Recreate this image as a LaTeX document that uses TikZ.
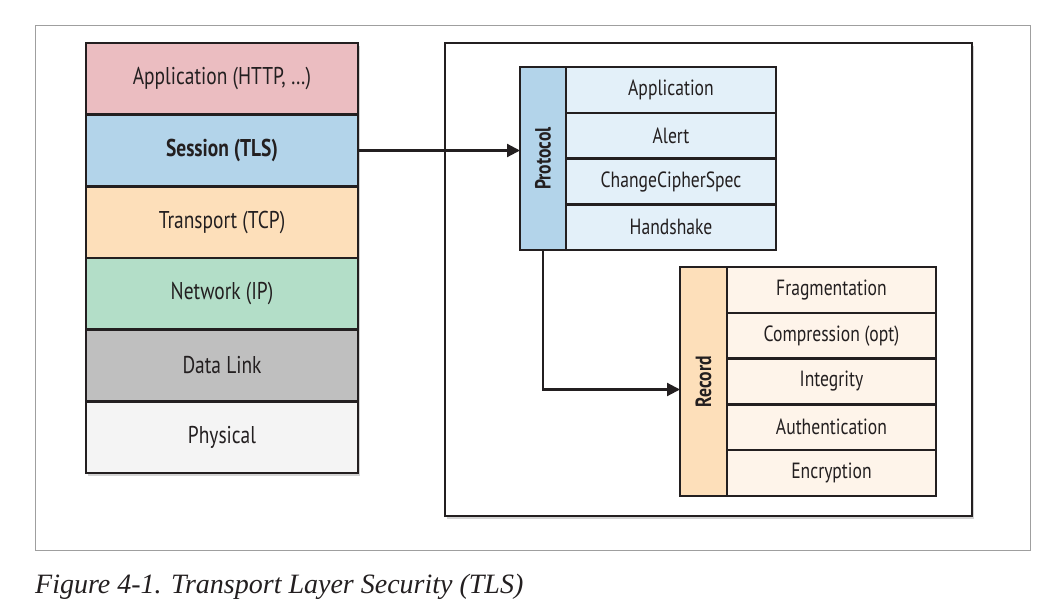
\documentclass[tikz,border=0pt]{standalone}
\usepackage{fontspec}
\setmainfont{Liberation Serif}
\setsansfont[FakeStretch=0.8]{PT Sans}
\usetikzlibrary{positioning,shadows,arrows.meta}

\definecolor{apppink}{HTML}{EBBDC1}
\definecolor{sessblue}{HTML}{B3D4EA}
\definecolor{tcppeach}{HTML}{FDDFBA}
\definecolor{ipgreen}{HTML}{B3DEC8}
\definecolor{linkgray}{HTML}{BFBFBF}
\definecolor{physgray}{HTML}{F4F4F4}
\definecolor{protocell}{HTML}{E3F0F9}
\definecolor{reccell}{HTML}{FEF4EA}
\definecolor{inkblack}{HTML}{231F20}

\tikzset{
  shade box/.style={drop shadow={shadow xshift=2pt, shadow yshift=-2.5pt, opacity=.35}},
  layer/.style={draw=inkblack, line width=2.6pt, shade box, outer sep=0pt, inner sep=0pt,
    minimum width=272pt, minimum height=71.67pt, text=inkblack,
    font=\sffamily\fontsize{24.3}{28}\selectfont},
  cell/.style={draw=inkblack, line width=2.4pt, outer sep=0pt, inner sep=0pt,
    minimum width=210pt, minimum height=45.8pt, text=inkblack,
    font=\sffamily\fontsize{22}{26}\selectfont},
  strip/.style={draw=inkblack, line width=2.4pt, outer sep=0pt, inner sep=0pt,
    minimum width=46pt, text=inkblack,
    font=\sffamily\fontsize{22}{26}\selectfont\bfseries},
  link/.style={draw=inkblack, line width=2.2pt, -{Triangle[length=13pt,width=13pt]}}
}

\begin{document}
\begin{tikzpicture}[x=1pt, y=-1pt]
    \useasboundingbox (0,0) rectangle (1058,613);
    \draw[gray!75, line width=1pt] (35,25) rectangle (1030,550);

    % OSI stack
    \node[layer, fill=apppink, anchor=north west] (app) at (86,43) {Application (HTTP, \dots)};
    \node[layer, fill=sessblue, below=0pt of app, font=\sffamily\fontsize{24.3}{28}\selectfont\bfseries] (session) {Session (TLS)};
    \node[layer, fill=tcppeach, below=0pt of session] (transport) {Transport (TCP)};
    \node[layer, fill=ipgreen, below=0pt of transport] (network) {Network (IP)};
    \node[layer, fill=linkgray, below=0pt of network] (datalink) {Data Link};
    \node[layer, fill=physgray, below=0pt of datalink] (physical) {Physical};

    % TLS box
    \node[draw=inkblack, line width=2.8pt, fill=white, shade box, outer sep=0pt,
      minimum width=527pt, minimum height=473pt, anchor=north west] (tlsbox) at (445,43) {};

    % protocol layer
    \node[strip, fill=sessblue, minimum height=183pt, anchor=north west] (proto) at (520,67) {\rotatebox{90}{Protocol}};
    \node[cell, fill=protocell, anchor=north west] (papp) at (proto.north east) {Application};
    \node[cell, fill=protocell, below=0pt of papp] (palert) {Alert};
    \node[cell, fill=protocell, below=0pt of palert] (pccs) {ChangeCipherSpec};
    \node[cell, fill=protocell, below=0pt of pccs] (phand) {Handshake};

    % record layer
    \node[strip, fill=tcppeach, minimum width=47pt, minimum height=229pt, anchor=north west] (record) at (680,267) {\rotatebox{90}{Record}};
    \node[cell, fill=reccell, minimum width=209pt, anchor=north west] (rfrag) at (record.north east) {Fragmentation};
    \node[cell, fill=reccell, minimum width=209pt, below=0pt of rfrag] (rcomp) {Compression (opt)};
    \node[cell, fill=reccell, minimum width=209pt, below=0pt of rcomp] (rint) {Integrity};
    \node[cell, fill=reccell, minimum width=209pt, below=0pt of rint] (rauth) {Authentication};
    \node[cell, fill=reccell, minimum width=209pt, below=0pt of rauth] (renc) {Encryption};

    \draw[link] (session.east) -- (session.east -| proto.west);
    \draw[link] (proto.south) |- ([yshift=-8pt]record.west);

    \node[anchor=base west, inner sep=0pt, text=inkblack, font=\itshape\fontsize{28}{32}\selectfont] (caption) at (35,593) {Figure 4-1. Transport Layer Security (TLS)};
\end{tikzpicture}
\end{document}
